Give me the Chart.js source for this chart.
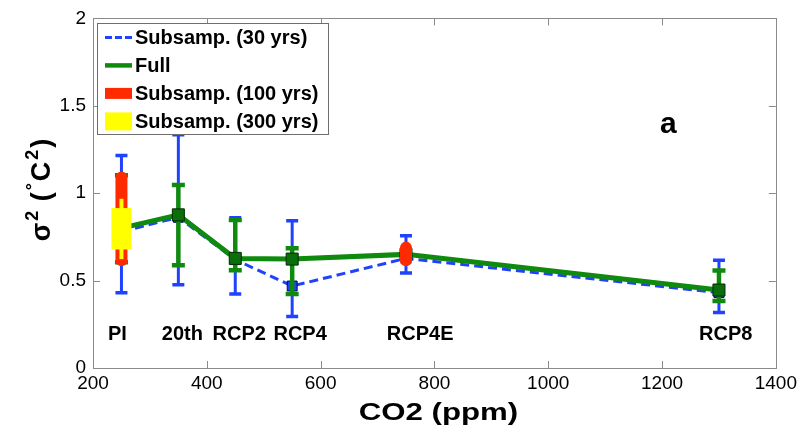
<!DOCTYPE html>
<html><head><meta charset="utf-8">
<script src="https://cdn.jsdelivr.net/npm/chart.js@4/dist/chart.umd.min.js"></script>
<style>html,body{margin:0;padding:0;background:#fff}#wrap{width:801px;height:436px}</style>
</head><body><div id="wrap"><canvas id="c" width="801" height="436"></canvas></div>
<script>
// ---- data ----
const co2 = [250, 350, 450, 550, 750, 1300];
const scenarioNames = ['PI', '20th', 'RCP2', 'RCP4', 'RCP4E', 'RCP8'];
const scenarioLabelX = [243, 357, 457, 564, 775, 1312];
const scenarioLabelY = 0.19;
const full = [0.80, 0.876, 0.627, 0.623, 0.65, 0.446];
const fullLow = [0.605, 0.588, 0.559, 0.424, null, 0.384];
const fullHigh = [1.103, 1.047, 0.847, 0.685, null, 0.558];
const sub30 = [0.78, 0.862, 0.62, 0.469, 0.627, 0.431];
const sub30Low = [0.431, 0.476, 0.424, 0.294, 0.544, 0.318];
const sub30High = [1.216, 1.335, 0.859, 0.842, 0.757, 0.616];
const sub100X = [250, 750];
const sub100Low = [0.582, 0.582];
const sub100High = [1.124, 0.723];
const sub300X = [250];
const sub300Low = [0.623];
const sub300High = [0.968];
const sub300BoxLow = [0.678];
const sub300BoxHigh = [0.915];
const xTicks = [200, 400, 600, 800, 1000, 1200, 1400];
const yTicks = [0, 0.5, 1, 1.5, 2];
const panelLetter = 'a';
const panelLetterPos = [1211, 1.39];
const seriesLabels = ['Subsamp. (30 yrs)', 'Full', 'Subsamp. (100 yrs)', 'Subsamp. (300 yrs)'];
const xTitle = 'CO2 (ppm)';

// ---- styles ----
const BLUE = '#1f42ff', GREEN = '#0f8a0f', RED = '#ff2a00', YELLOW = '#ffff00', AXIS = '#8a8a8a';
const FONT = '"Liberation Sans", Arial, Helvetica, sans-serif';

function drawErr(ctx, xs, ys, X, lo, hi, color, lw, capW, capT) {
  ctx.save();
  ctx.strokeStyle = color;
  ctx.lineCap = 'butt';
  for (let k = 0; k < X.length; k++) {
    if (lo[k] == null || hi[k] == null) continue;
    const px = xs.getPixelForValue(X[k]);
    const yl = ys.getPixelForValue(lo[k]), yh = ys.getPixelForValue(hi[k]);
    ctx.lineWidth = lw;
    ctx.beginPath(); ctx.moveTo(px, yl); ctx.lineTo(px, yh); ctx.stroke();
    ctx.lineWidth = capT;
    ctx.beginPath();
    ctx.moveTo(px - capW / 2, yl); ctx.lineTo(px + capW / 2, yl);
    ctx.moveTo(px - capW / 2, yh); ctx.lineTo(px + capW / 2, yh);
    ctx.stroke();
  }
  ctx.restore();
}

const customPlugin = {
  id: 'custom',
  beforeDatasetsDraw(chart) {
    const { ctx, chartArea: a, scales: { x: xs, y: ys } } = chart;
    ctx.save();
    ctx.strokeStyle = AXIS; ctx.lineWidth = 1;
    ctx.strokeRect(Math.round(a.left) + 0.5, Math.round(a.top) + 0.5, Math.round(a.right - a.left), Math.round(a.bottom - a.top));
    ctx.beginPath();
    xTicks.forEach(v => {
      const p = Math.round(xs.getPixelForValue(v)) + 0.5;
      ctx.moveTo(p, a.bottom); ctx.lineTo(p, a.bottom - 7);
      ctx.moveTo(p, a.top); ctx.lineTo(p, a.top + 7);
    });
    yTicks.forEach(v => {
      const p = Math.round(ys.getPixelForValue(v)) + 0.5;
      ctx.moveTo(a.left, p); ctx.lineTo(a.left + 7, p);
      ctx.moveTo(a.right, p); ctx.lineTo(a.right - 7, p);
    });
    ctx.stroke();
    ctx.restore();
  },
  beforeDatasetDraw(chart, args) {
    const { ctx, scales: { x: xs, y: ys } } = chart;
    if (args.index === 0) drawErr(ctx, xs, ys, co2, sub30Low, sub30High, BLUE, 3, 12, 3.5);
    if (args.index === 1) drawErr(ctx, xs, ys, co2, fullLow, fullHigh, GREEN, 4.5, 13, 4.5);
  },
  afterDatasetDraw(chart, args) {
    const { ctx, scales: { x: xs, y: ys } } = chart;
    if (args.index === 2) {
      ctx.save(); ctx.fillStyle = RED;
      sub100X.forEach((v, k) => {
        const px = xs.getPixelForValue(v);
        const yh = ys.getPixelForValue(sub100High[k]), yl = ys.getPixelForValue(sub100Low[k]);
        ctx.beginPath(); ctx.roundRect(px - 6, yh, 12, yl - yh, 6); ctx.fill();
      });
      ctx.restore();
    }
    if (args.index === 3) {
      ctx.save(); ctx.fillStyle = YELLOW;
      sub300X.forEach((v, k) => {
        const px = xs.getPixelForValue(v);
        const yh = ys.getPixelForValue(sub300High[k]), yl = ys.getPixelForValue(sub300Low[k]);
        ctx.fillRect(px - 2, yh, 4, yl - yh);
        const bh = ys.getPixelForValue(sub300BoxHigh[k]), bl = ys.getPixelForValue(sub300BoxLow[k]);
        ctx.fillRect(px - 10, bh, 20, bl - bh);
      });
      ctx.restore();
    }
  },
  afterDatasetsDraw(chart) {
    const { ctx, chartArea: a, scales: { x: xs, y: ys } } = chart;
    ctx.save();
    ctx.fillStyle = '#000';
    ctx.font = 'bold 20px ' + FONT;
    ctx.textAlign = 'center'; ctx.textBaseline = 'middle';
    scenarioNames.forEach((n, k) => {
      ctx.fillText(n, xs.getPixelForValue(scenarioLabelX[k]), ys.getPixelForValue(scenarioLabelY));
    });
    ctx.font = 'bold 30px ' + FONT;
    ctx.fillText(panelLetter, xs.getPixelForValue(panelLetterPos[0]), ys.getPixelForValue(panelLetterPos[1]));
    // legend
    const L = a.left + 4, T = a.top + 5, W = 231, H = 111;
    ctx.fillStyle = '#fff'; ctx.fillRect(L, T, W, H);
    ctx.strokeStyle = '#6e6e6e'; ctx.lineWidth = 1;
    ctx.strokeRect(Math.round(L) + 0.5, Math.round(T) + 0.5, W, H);
    ctx.font = 'bold 20px ' + FONT; ctx.textAlign = 'left'; ctx.textBaseline = 'middle';
    chart.data.datasets.forEach((ds, k) => {
      const cy = T + 14 + 28 * k;
      const x0 = L + 8, x1 = L + 35;
      ctx.save();
      if (k === 0) { ctx.strokeStyle = BLUE; ctx.lineWidth = 3; ctx.setLineDash([7, 3]); ctx.beginPath(); ctx.moveTo(x0, cy); ctx.lineTo(x1, cy); ctx.stroke(); }
      if (k === 1) { ctx.strokeStyle = GREEN; ctx.lineWidth = 4.5; ctx.beginPath(); ctx.moveTo(x0, cy); ctx.lineTo(x1, cy); ctx.stroke(); }
      if (k === 2) { ctx.fillStyle = RED; ctx.fillRect(x0, cy - 5.5, x1 - x0, 11); }
      if (k === 3) { ctx.fillStyle = YELLOW; ctx.fillRect(x0, cy - 9, x1 - x0, 18); }
      ctx.restore();
      ctx.fillStyle = '#000';
      ctx.fillText(ds.label, L + 38, cy + 1);
    });
    ctx.restore();
  },
  afterDraw(chart) {
    const ctx = chart.ctx;
    const a = chart.chartArea;
    // y axis title with superscripts
    const parts = [['σ', 0], ['2', 1], [' (', 0], ['°', 1], ['C', 0], ['2', 1], [')', 0]];
    const mainF = 'bold 27px ' + FONT, supF = 'bold 18px ' + FONT;
    ctx.save();
    let total = 0;
    const widths = parts.map(([t, s]) => { ctx.font = s ? supF : mainF; const w = ctx.measureText(t).width + 2; total += w; return w; });
    ctx.translate(50, 189);
    ctx.rotate(-Math.PI / 2);
    ctx.fillStyle = '#000'; ctx.textBaseline = 'alphabetic'; ctx.textAlign = 'left';
    let xx = -total / 2;
    parts.forEach(([t, s], k) => {
      ctx.font = s ? supF : mainF;
      ctx.fillText(t, xx, s ? -12 : 0);
      xx += widths[k];
    });
    ctx.restore();
    // x axis title (slightly widened like the reference)
    ctx.save();
    ctx.translate((a.left + a.right) / 2 + 4, 420);
    ctx.scale(1.3, 1);
    ctx.font = 'bold 24px ' + FONT;
    ctx.fillStyle = '#000'; ctx.textAlign = 'center'; ctx.textBaseline = 'alphabetic';
    ctx.fillText(xTitle, 0, 0);
    ctx.restore();
  }
};

new Chart(document.getElementById('c'), {
  type: 'line',
  data: {
    datasets: [
      { label: seriesLabels[0], data: co2.map((x, i) => ({ x, y: sub30[i] })), borderColor: BLUE, borderWidth: 3, borderDash: [9, 5],
        pointStyle: 'rect', pointRadius: 7, pointBackgroundColor: BLUE, pointBorderColor: '#00006a', pointBorderWidth: 1, order: 3 },
      { label: seriesLabels[1], data: co2.map((x, i) => ({ x, y: full[i] })), borderColor: GREEN, borderWidth: 5,
        pointStyle: 'rect', pointRadius: 8.5, pointBackgroundColor: '#0a6e0a', pointBorderColor: '#042a04', pointBorderWidth: 1, order: 2 },
      { label: seriesLabels[2], data: sub100X.map((x, i) => ({ x, y: (sub100Low[i] + sub100High[i]) / 2 })), showLine: false, pointRadius: 0, borderColor: RED, backgroundColor: RED, order: 1 },
      { label: seriesLabels[3], data: sub300X.map((x, i) => ({ x, y: (sub300Low[i] + sub300High[i]) / 2 })), showLine: false, pointRadius: 0, borderColor: YELLOW, backgroundColor: YELLOW, order: 0 }
    ]
  },
  options: {
    responsive: false, animation: false, devicePixelRatio: 1,
    layout: { padding: { top: 14, right: 22, left: 0, bottom: 0 } },
    plugins: { legend: { display: false }, tooltip: { enabled: false } },
    scales: {
      x: {
        type: 'linear', min: 200, max: 1400,
        afterBuildTicks: s => { s.ticks = xTicks.map(v => ({ value: v })); },
        afterFit: s => { s.height = 68; },
        grid: { display: false, drawTicks: false }, border: { display: false },
        ticks: { font: { family: FONT, size: 19 }, color: '#000', padding: 4, maxRotation: 0, autoSkip: false, callback: v => String(v) },
        title: { display: false }
      },
      y: {
        type: 'linear', min: 0, max: 2,
        afterBuildTicks: s => { s.ticks = yTicks.map(v => ({ value: v })); },
        afterFit: s => { s.width = 93; },
        grid: { display: false, drawTicks: false }, border: { display: false },
        ticks: { font: { family: FONT, size: 19 }, color: '#000', padding: 7, callback: v => String(v) }
      }
    }
  },
  plugins: [customPlugin]
});
</script>
</body></html>
